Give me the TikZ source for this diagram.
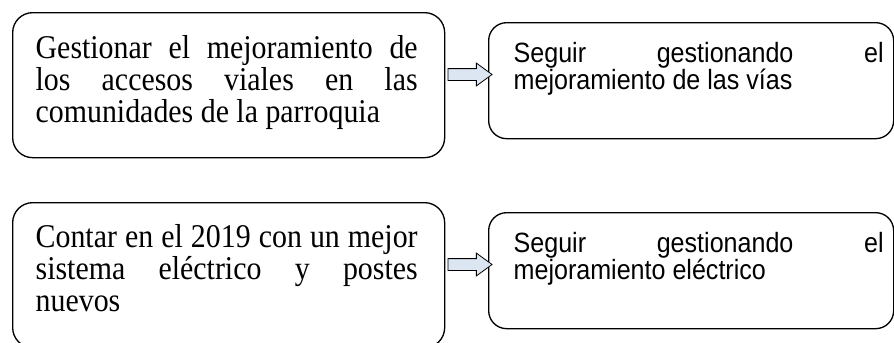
\documentclass[tikz,border=0pt]{standalone}
\usepackage{fontspec}
\setmainfont[FakeStretch=0.9]{Liberation Serif}
\setsansfont[FakeStretch=0.9]{Liberation Sans}
\usetikzlibrary{shapes.arrows}

\definecolor{flechaazul}{HTML}{DCE6F2}
\newdimen\pix
\pix=0.75pt
\newcommand{\letraobjetivo}{\rmfamily\fontsize{24.9}{24}\selectfont}
\newcommand{\letraaccion}{\sffamily\fontsize{20.9}{20.25}\selectfont}

\begin{document}
\begin{tikzpicture}[
    x=0.75pt, y=-0.75pt,
    objetivo/.style={draw=black, line width=1pt, rounded corners=15pt, inner sep=0pt, anchor=north west},
    accion/.style={draw=black, line width=1pt, rounded corners=13.5pt, inner sep=0pt, anchor=north west},
    flecha/.style={single arrow, draw=black, line width=0.6pt, fill=flechaazul, minimum height=44\pix, inner xsep=0pt, inner ysep=5.5\pix, single arrow head extend=5.5\pix, single arrow tip angle=72}
]
    \useasboundingbox (0,0) rectangle (894,343);

    % Objetivos
    \node[objetivo] (gestion) at (12,12) {\parbox[t][145\pix][t]{432\pix}{\letraobjetivo\leftskip=23\pix\rightskip=27\pix\vspace*{23\pix}%
        Gestionar el mejoramiento de\linebreak los accesos viales en las\linebreak comunidades de la parroquia}};
    \node[objetivo] (contar) at (12,202) {\parbox[t][145\pix][t]{432\pix}{\letraobjetivo\leftskip=23\pix\rightskip=27\pix\vspace*{22\pix}%
        Contar en el 2019 con un mejor\linebreak sistema el\'ectrico y postes\linebreak nuevos}};

    % Acciones
    \node[accion] (vias) at (488,22) {\parbox[t][116\pix][t]{405\pix}{\letraaccion\leftskip=25\pix\rightskip=10\pix\vspace*{20\pix}%
        Seguir gestionando el\linebreak mejoramiento de las v\'ias}};
    \node[accion] (electrico) at (488,212) {\parbox[t][116\pix][t]{405\pix}{\letraaccion\leftskip=25\pix\rightskip=10\pix\vspace*{20\pix}%
        Seguir gestionando el\linebreak mejoramiento el\'ectrico}};

    % Flechas
    \node[flecha] (flecha1) at (466,74.5) {};
    \node[flecha] (flecha2) at (466,264.5) {};
\end{tikzpicture}
\end{document}
